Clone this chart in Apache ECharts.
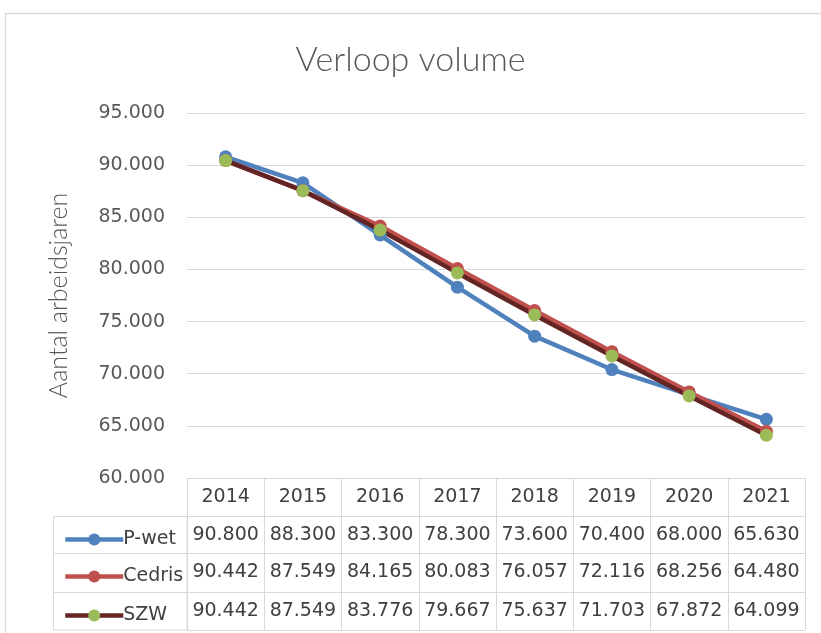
<!DOCTYPE html>
<html>
<head>
<meta charset="utf-8">
<script src="https://cdn.jsdelivr.net/npm/echarts@6/dist/echarts.min.js"></script>
<style>
html,body{margin:0;padding:0;background:#fff;}
#c{width:821px;height:633px;}
</style>
</head>
<body>
<div id="c"></div>
<script>
const categories = ['2014','2015','2016','2017','2018','2019','2020','2021'];
const pwet   = [90800, 88300, 83300, 78300, 73600, 70400, 68000, 65630];
const cedris = [90442, 87549, 84165, 80083, 76057, 72116, 68256, 64480];
const szw    = [90442, 87549, 83776, 79667, 75637, 71703, 67872, 64099];
const seriesNames = ['P-wet', 'Cedris', 'SZW'];
const yMin = 60000, yMax = 95000, yStep = 5000;

const fmt = v => (v / 1000).toFixed(3);
const GRID = '#d9d9d9';
const TXT = '#595959';
const numFont = 'DejaVu Sans';

const chart = echarts.init(document.getElementById('c'), null, {renderer: 'canvas'});

function tableAxis(values, offset, showLabel) {
  return {
    type: 'category', position: 'bottom', offset: offset,
    data: values.map(v => typeof v === 'number' ? fmt(v) : v),
    boundaryGap: true,
    axisLine: {show: true, lineStyle: {color: GRID, width: 1}},
    axisTick: {show: false},
    axisLabel: {show: showLabel, interval: 0, margin: 10, fontSize: 19, lineHeight: 19, color: '#404040', fontFamily: numFont},
    splitLine: {show: false}
  };
}

function legendFor(name, top) {
  return {data: [name], left: 58, top: top, itemWidth: 58, itemHeight: 15, itemGap: 2,
    lineStyle: {width: 4.5},
    textStyle: {fontSize: 19, color: '#404040', fontFamily: numFont, padding: [0,0,0,-5]}};
}

const option = {
  animation: false,
  backgroundColor: '#fff',
  title: {
    text: 'Verloop volume', left: 'center', top: 38,
    textStyle: {fontFamily: 'Lato', fontWeight: 300, fontSize: 34, color: TXT}
  },
  grid: {left: 187, right: 16, top: 113, bottom: 155, containLabel: false},
  legend: [legendFor(seriesNames[0], 525), legendFor(seriesNames[1], 562), legendFor(seriesNames[2], 601)],
  xAxis: [
    {
      type: 'category', position: 'bottom', data: categories, boundaryGap: true,
      axisLine: {show: true, lineStyle: {color: GRID, width: 1}},
      axisTick: {show: true, alignWithLabel: false, length: 152, lineStyle: {color: GRID, width: 1}},
      axisLabel: {interval: 0, margin: 10, fontSize: 19, lineHeight: 19, color: '#404040', fontFamily: numFont}
    },
    tableAxis(pwet, 38, true),
    tableAxis(cedris, 75, true),
    tableAxis(szw, 114, true),
    tableAxis(categories, 152, false)
  ],
  yAxis: {
    type: 'value', min: yMin, max: yMax, interval: yStep,
    name: 'Aantal arbeidsjaren', nameLocation: 'middle', nameGap: 116, nameRotate: 90,
    nameTextStyle: {fontFamily: 'Lato', fontWeight: 300, fontSize: 25, color: TXT},
    axisLine: {show: false}, axisTick: {show: false},
    axisLabel: {margin: 22, fontSize: 19, color: TXT, fontFamily: numFont, formatter: v => fmt(v)},
    splitLine: {lineStyle: {color: GRID, width: 1}}
  },
  series: [
    {name: seriesNames[0], type: 'line', data: pwet, xAxisIndex: 0,
     symbol: 'circle', symbolSize: 13,
     lineStyle: {color: '#4F81BD', width: 4.5}, itemStyle: {color: '#4F81BD'}},
    {name: seriesNames[1], type: 'line', data: cedris, xAxisIndex: 0,
     symbol: 'circle', symbolSize: 13,
     lineStyle: {color: '#C0504D', width: 4.5}, itemStyle: {color: '#C0504D'}},
    {name: seriesNames[2], type: 'line', data: szw, xAxisIndex: 0,
     symbol: 'circle', symbolSize: 13,
     lineStyle: {color: '#632523', width: 4.5}, itemStyle: {color: '#9BBB59'}}
  ],
  graphic: [
    {type: 'rect', silent: true, z: -1, shape: {x: 5.5, y: 13.5, width: 900, height: 700},
     style: {fill: 'none', stroke: GRID, lineWidth: 1.5}},
    {type: 'rect', silent: true, shape: {x: 53.5, y: 516.5, width: 133.5, height: 113.5},
     style: {fill: 'none', stroke: GRID, lineWidth: 1}},
    {type: 'line', silent: true, shape: {x1: 53.5, y1: 553.5, x2: 187, y2: 553.5},
     style: {stroke: GRID, lineWidth: 1}},
    {type: 'line', silent: true, shape: {x1: 53.5, y1: 592.5, x2: 187, y2: 592.5},
     style: {stroke: GRID, lineWidth: 1}}
  ]
};
chart.setOption(option);
</script>
</body>
</html>
